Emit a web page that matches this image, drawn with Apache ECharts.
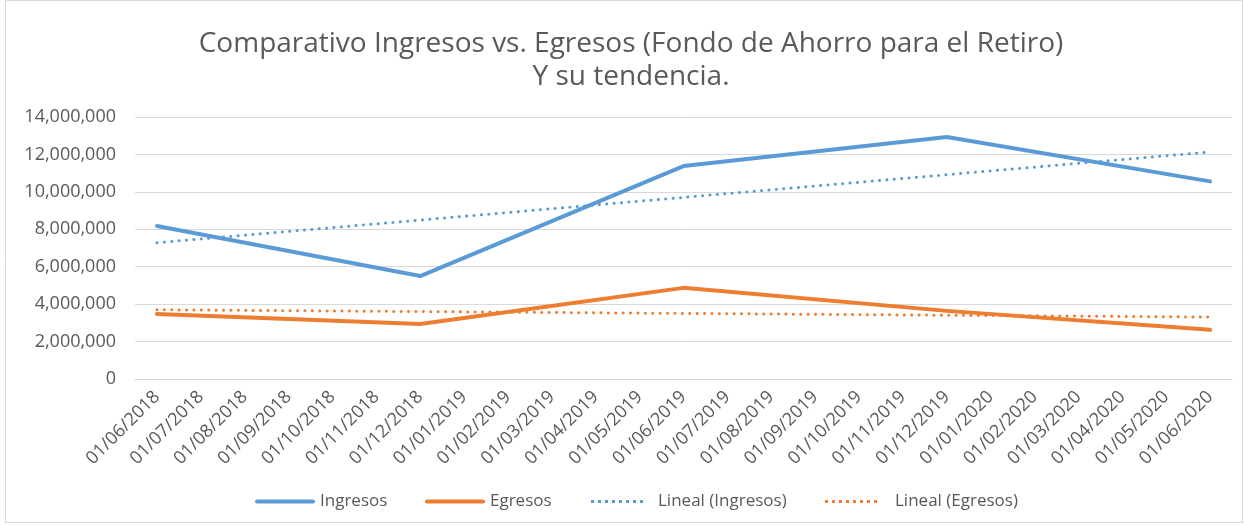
<!DOCTYPE html>
<html><head><meta charset="utf-8">
<script src="https://cdn.jsdelivr.net/npm/echarts@6/dist/echarts.min.js"></script>
<style>html,body{margin:0;padding:0;background:#fff}#c{width:1244px;height:525px}</style>
</head><body><div id="c"></div>
<script>
const categories = ["01/06/2018","01/07/2018","01/08/2018","01/09/2018","01/10/2018","01/11/2018","01/12/2018","01/01/2019","01/02/2019","01/03/2019","01/04/2019","01/05/2019","01/06/2019","01/07/2019","01/08/2019","01/09/2019","01/10/2019","01/11/2019","01/12/2019","01/01/2020","01/02/2020","01/03/2020","01/04/2020","01/05/2020","01/06/2020"];
const ingresos = [8180000,null,null,null,null,null,5500000,null,null,null,null,null,11380000,null,null,null,null,null,12930000,null,null,null,null,null,10560000];
const egresos = [3470000,null,null,null,null,null,2940000,null,null,null,null,null,4870000,null,null,null,null,null,3640000,null,null,null,null,null,2630000];
const linealIngresos = [7280000,null,null,null,null,null,null,null,null,null,null,null,null,null,null,null,null,null,null,null,null,null,null,null,12130000];
const linealEgresos = [3700000,null,null,null,null,null,null,null,null,null,null,null,null,null,null,null,null,null,null,null,null,null,null,null,3310000];
const yTicks = {min:0, max:14000000, interval:2000000};
const seriesNames = ['Ingresos','Egresos','Lineal (Ingresos)','Lineal (Egresos)'];

const FONT = "'Open Sans', 'Noto Sans', sans-serif";
const chart = echarts.init(document.getElementById('c'));
const blue = '#5b9bd5', orange = '#ed7d31';
const solidIcon = 'path://M2,0h56a2,2 0 0 1 0,4h-56a2,2 0 0 1 0,-4z';
let dots = '';
for (let i = 0; i < 8; i++) dots += 'M' + (i*7) + ',0h3v3h-3z';
const dotIcon = 'path://' + dots;
function leg(name, left, icon, w, h, pad) {
  return {left:left, top:488, itemWidth:w, itemHeight:h, icon:icon, data:[name],
    textStyle:{fontFamily:FONT, fontSize:17, color:'#595959', padding:[0,0,0,pad]}};
}
chart.setOption({
  animation:false,
  backgroundColor:'#fff',
  title:{text:'Comparativo Ingresos vs. Egresos (Fondo de Ahorro para el Retiro)\nY su tendencia.', left:626, top:23,
    textAlign:'center',
    textStyle:{fontFamily:FONT, fontSize:28, fontWeight:'normal', color:'#595959', lineHeight:33}},
  grid:{left:135, right:12, top:117, bottom:146},
  legend:[
    leg(seriesNames[0], 250, solidIcon, 60, 5, 0),
    leg(seriesNames[1], 420, solidIcon, 60, 5, 0),
    leg(seriesNames[2], 586, dotIcon, 52, 3, 10),
    leg(seriesNames[3], 820, dotIcon, 58, 3, 10)
  ],
  xAxis:{type:'category', data:categories, boundaryGap:true,
    axisLine:{lineStyle:{color:'#d9d9d9'}}, axisTick:{show:false},
    axisLabel:{interval:0, rotate:45, fontFamily:FONT, fontSize:18, color:'#595959', margin:15}},
  yAxis:{type:'value', min:yTicks.min, max:yTicks.max, interval:yTicks.interval,
    axisLine:{show:false}, axisTick:{show:false},
    splitLine:{lineStyle:{color:'#d9d9d9', width:1}},
    axisLabel:{fontFamily:FONT, fontSize:18, color:'#595959', margin:19,
      formatter:v=>v.toLocaleString('en-US')}},
  graphic:[{type:'rect', shape:{x:5.5,y:0.5,width:1237,height:522}, style:{fill:'none', stroke:'#d9d9d9', lineWidth:1}, silent:true}],
  series:[
    {name:seriesNames[0], type:'line', data:ingresos, connectNulls:true, symbol:'none', lineStyle:{color:blue, width:4, cap:'round', join:'round'}, itemStyle:{color:blue}},
    {name:seriesNames[1], type:'line', data:egresos, connectNulls:true, symbol:'none', lineStyle:{color:orange, width:4, cap:'round', join:'round'}, itemStyle:{color:orange}},
    {name:seriesNames[2], type:'line', data:linealIngresos, connectNulls:true, symbol:'none', lineStyle:{color:blue, width:3, type:[0.1,7.3], cap:'round'}, itemStyle:{color:blue}},
    {name:seriesNames[3], type:'line', data:linealEgresos, connectNulls:true, symbol:'none', lineStyle:{color:orange, width:3, type:[0.1,7.3], cap:'round'}, itemStyle:{color:orange}}
  ]
});
</script></body></html>
